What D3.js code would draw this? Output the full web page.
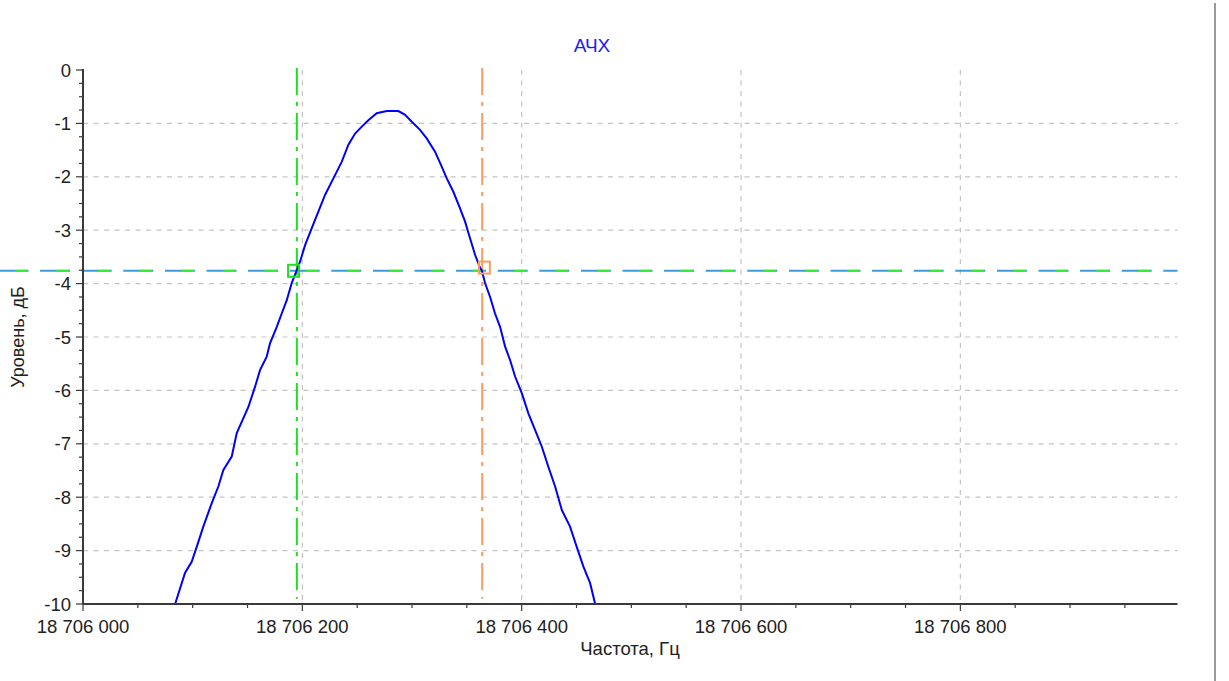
<!DOCTYPE html>
<html>
<head>
<meta charset="utf-8">
<script src="https://cdn.jsdelivr.net/npm/d3@7"></script>
<style>
  body { margin: 0; background: #fff; }
  svg { display: block; font-family: "Liberation Sans", Arial, sans-serif; }
</style>
</head>
<body>
<div id="chart"></div>
<script>
// АЧХ data: frequency offset from 18 706 000 Hz, level in dB
const baseFreq = 18706000;
const freqOffset = [84, 93, 99.1, 103.7, 109.7, 117.4, 123.4, 128, 135.6, 140.2, 150.8, 156.9, 161.4, 167.5,
  170.5, 176.7, 181.2, 185.8, 190.3, 194.9, 197.9, 202.5, 208.6, 214.6, 220.7, 228.3, 235.9, 242, 248.1,
  254.2, 260.2, 267.8, 277, 287.6, 293.7, 299.8, 307.3, 313.4, 321, 327.1, 331.7, 337.7, 343.8, 348.4,
  352.9, 357.5, 362.1, 363.6, 366.6, 371.2, 375.7, 380.3, 384.9, 389.4, 394, 400.1, 406.1, 412.2, 418.3,
  424.3, 430.5, 436.6, 444.1, 450.2, 456.3, 462.4, 467];
const levelDb = [-10, -9.42, -9.21, -8.93, -8.55, -8.11, -7.8, -7.49, -7.24, -6.8, -6.31, -5.93, -5.62, -5.37,
  -5.12, -4.81, -4.56, -4.31, -3.99, -3.75, -3.59, -3.28, -2.96, -2.65, -2.34, -2.03, -1.72, -1.4, -1.19,
  -1.06, -0.94, -0.81, -0.77, -0.77, -0.84, -0.97, -1.12, -1.28, -1.53, -1.81, -2.03, -2.28, -2.59, -2.84,
  -3.15, -3.46, -3.71, -3.75, -3.99, -4.25, -4.56, -4.81, -5.18, -5.43, -5.74, -6.05, -6.43, -6.74, -7.05,
  -7.43, -7.8, -8.24, -8.55, -8.93, -9.3, -9.61, -10];

// cursors: two vertical markers and the -3 dB level
const markerFreq = [18706195, 18706364];
const markerColor = ["#1fe01f", "#ff9a5c"];
const markerBoxFreq = [18706192, 18706366];
const markerBoxDb = [-3.76, -3.7];
const levelLine = -3.76;

const xTicks = [18706000, 18706200, 18706400, 18706600, 18706800];
const yTicks = [0, -1, -2, -3, -4, -5, -6, -7, -8, -9, -10];

const width = 1229, height = 681;
const svg = d3.select("#chart").append("svg")
  .attr("width", width).attr("height", height);

const x = d3.scaleLinear().domain([baseFreq, baseFreq + 998]).range([83, 1177.5]);
const y = d3.scaleLinear().domain([-10, 0]).range([604, 70]);

const fmt = d => d3.format(",d")(d).replace(/,/g, " ");

// grid
const grid = svg.append("g")
  .attr("stroke", "#c4c4c4").attr("stroke-width", 1.2).attr("stroke-dasharray", "5,5.5");
grid.selectAll("line.h").data(yTicks.filter(d => d !== 0 && d !== -10)).enter().append("line")
  .attr("x1", x.range()[0]).attr("x2", x.range()[1])
  .attr("y1", d => y(d)).attr("y2", d => y(d));
grid.selectAll("line.v").data(xTicks.slice(1)).enter().append("line")
  .attr("x1", d => x(d)).attr("x2", d => x(d))
  .attr("y1", y(0)).attr("y2", y(-10));

// level line (blue dashes with green pieces on top), runs from the left edge
svg.append("line")
  .attr("x1", 0).attr("x2", x.range()[1])
  .attr("y1", y(levelLine)).attr("y2", y(levelLine))
  .attr("stroke", "#3d9bd8").attr("stroke-width", 2)
  .attr("stroke-dasharray", "30,11.6").attr("stroke-dashoffset", 1.5);
svg.append("line")
  .attr("x1", 0).attr("x2", x.range()[1])
  .attr("y1", y(levelLine)).attr("y2", y(levelLine))
  .attr("stroke", "#33ee33").attr("stroke-width", 2)
  .attr("stroke-dasharray", "12,29.6").attr("stroke-dashoffset", -15);

// vertical cursors
svg.selectAll("line.cursor").data(markerFreq).enter().append("line")
  .attr("x1", d => x(d)).attr("x2", d => x(d))
  .attr("y1", y(0) - 2).attr("y2", y(-9.9))
  .attr("stroke", (d, i) => markerColor[i]).attr("stroke-width", 2)
  .attr("stroke-dasharray", "27,7,4,7");

// curve
const pts = freqOffset.map((f, i) => [baseFreq + f, levelDb[i]]);
svg.append("path")
  .datum(pts)
  .attr("fill", "none").attr("stroke", "#0000ff").attr("stroke-width", 2)
  .attr("d", d3.line().x(d => x(d[0])).y(d => y(d[1])));

// marker squares
svg.selectAll("rect.mk").data(markerBoxFreq).enter().append("rect")
  .attr("x", d => x(d) - 5.5).attr("y", (d, i) => y(markerBoxDb[i]) - 6)
  .attr("width", 11).attr("height", 12)
  .attr("fill", "none").attr("stroke", (d, i) => markerColor[i]).attr("stroke-width", 2);

// axes
const axisColor = "#3a3a3a";
const minorX = d3.range(baseFreq, baseFreq + 1000, 50);
const minorY = d3.range(0, 41).map(i => -i * 0.25);

const xa = svg.append("g");
xa.append("line").attr("x1", x.range()[0]).attr("x2", x.range()[1])
  .attr("y1", y(-10)).attr("y2", y(-10)).attr("stroke", axisColor).attr("stroke-width", 2);
xa.selectAll("line.t").data(minorX).enter().append("line")
  .attr("x1", d => x(d)).attr("x2", d => x(d))
  .attr("y1", y(-10)).attr("y2", d => y(-10) + ((d - baseFreq) % 200 === 0 ? 7 : 4))
  .attr("stroke", axisColor).attr("stroke-width", 1.2);
xa.selectAll("text").data(xTicks).enter().append("text")
  .attr("x", d => x(d)).attr("y", 633)
  .attr("text-anchor", "middle").attr("font-size", 18.5).attr("fill", "#222")
  .text(fmt);

const ya = svg.append("g");
ya.append("line").attr("x1", x.range()[0]).attr("x2", x.range()[0])
  .attr("y1", y(0) - 1).attr("y2", y(-10)).attr("stroke", axisColor).attr("stroke-width", 2);
ya.selectAll("line.t").data(minorY).enter().append("line")
  .attr("x1", x.range()[0]).attr("x2", d => x.range()[0] - (Number.isInteger(d) ? 7 : 4))
  .attr("y1", d => y(d)).attr("y2", d => y(d))
  .attr("stroke", axisColor).attr("stroke-width", 1.2);
ya.selectAll("text").data(yTicks).enter().append("text")
  .attr("x", 71).attr("y", d => y(d) + 6.5)
  .attr("text-anchor", "end").attr("font-size", 18.5).attr("fill", "#222")
  .text(d => d);

// titles
svg.append("text").attr("x", 592).attr("y", 52)
  .attr("text-anchor", "middle").attr("font-size", 19).attr("fill", "#1a1aff")
  .text("АЧХ");
svg.append("text").attr("x", 630).attr("y", 655)
  .attr("text-anchor", "middle").attr("font-size", 18.5).attr("fill", "#222")
  .text("Частота, Гц");
svg.append("text").attr("transform", "translate(24," + 337 + ") rotate(-90)")
  .attr("text-anchor", "middle").attr("font-size", 18).attr("fill", "#222")
  .text("Уровень, дБ");

// frame edge on the right
svg.append("line").attr("x1", 1215).attr("x2", 1215).attr("y1", 3).attr("y2", height)
  .attr("stroke", "#9a9a9a").attr("stroke-width", 2);
</script>
</body>
</html>
